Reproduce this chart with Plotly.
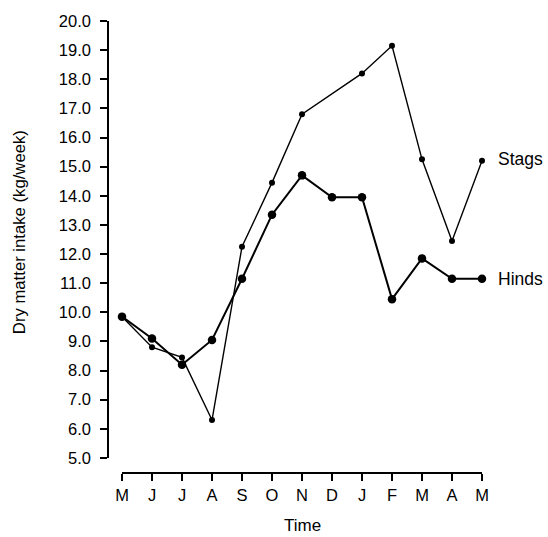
import plotly.graph_objects as go

months = ["M", "J", "J", "A", "S", "O", "N", "D", "J", "F", "M", "A", "M"]
stags = [9.85, 8.8, 8.45, 6.3, 12.25, 14.45, 16.8, None, 18.2, 19.15, 15.25, 12.45, 15.2]
hinds = [9.85, 9.1, 8.2, 9.05, 11.15, 13.35, 14.7, 13.95, 13.95, 10.45, 11.85, 11.15, 11.15]
y_ticks = [5, 6, 7, 8, 9, 10, 11, 12, 13, 14, 15, 16, 17, 18, 19, 20]

xpos = list(range(len(months)))
FONT = "Liberation Sans, Arial, sans-serif"

fig = go.Figure()
fig.add_trace(go.Scatter(x=xpos, y=stags, mode="lines+markers", connectgaps=True,
                         line=dict(color="black", width=1.4),
                         marker=dict(color="black", size=6),
                         cliponaxis=False, name="Stags", showlegend=False))
fig.add_trace(go.Scatter(x=xpos, y=hinds, mode="lines+markers",
                         line=dict(color="black", width=2),
                         marker=dict(color="black", size=8.5),
                         cliponaxis=False, name="Hinds", showlegend=False))

fig.add_annotation(x=xpos[-1], y=stags[-1], text="Stags", showarrow=False,
                   xanchor="left", xshift=14, yshift=2, font=dict(size=17.5, family=FONT, color="black"))
fig.add_annotation(x=xpos[-1], y=hinds[-1], text="Hinds", showarrow=False,
                   xanchor="left", xshift=14, yshift=0, font=dict(size=17.5, family=FONT, color="black"))
fig.add_annotation(x=(xpos[0] + xpos[-1]) / 2, y=0, xref="x", yref="paper", yanchor="middle",
                   yshift=-45, text="Time", showarrow=False,
                   font=dict(size=17, family=FONT, color="black"))
fig.add_annotation(x=0, xref="paper", xanchor="center", xshift=-81, y=12.75, yref="y",
                   yanchor="middle", text="Dry matter intake (kg/week)",
                   textangle=-90, showarrow=False, font=dict(size=16.7, family=FONT, color="black"))

fig.update_layout(
    width=548, height=537,
    margin=dict(l=100, r=40, t=17, b=57),
    paper_bgcolor="white", plot_bgcolor="white",
    font=dict(family=FONT, size=16.5, color="black"),
    xaxis=dict(domain=[22 / 408, 382 / 408], range=[0, 12], tickvals=xpos, ticktext=months,
               showgrid=False, zeroline=False, showline=True, linecolor="black", linewidth=1.5,
               ticks="outside", ticklen=7, tickwidth=1.5, tickcolor="black",
               anchor="free", position=6.7 / 463, tickfont=dict(size=16.5)),
    yaxis=dict(domain=[22.3 / 463, 1], range=[5, 20], tickvals=y_ticks,
               ticktext=[f"{v:.1f}" for v in y_ticks],
               showgrid=False, zeroline=False, showline=True, linecolor="black", linewidth=1.5,
               ticks="outside", ticklen=7, tickwidth=1.5, tickcolor="black",
               anchor="free", position=8 / 408, ticklabelstandoff=6, tickfont=dict(size=16.5)),
)

fig.write_html("out.html", config={"displayModeBar": False},
               post_script="document.body.style.margin='0';")
